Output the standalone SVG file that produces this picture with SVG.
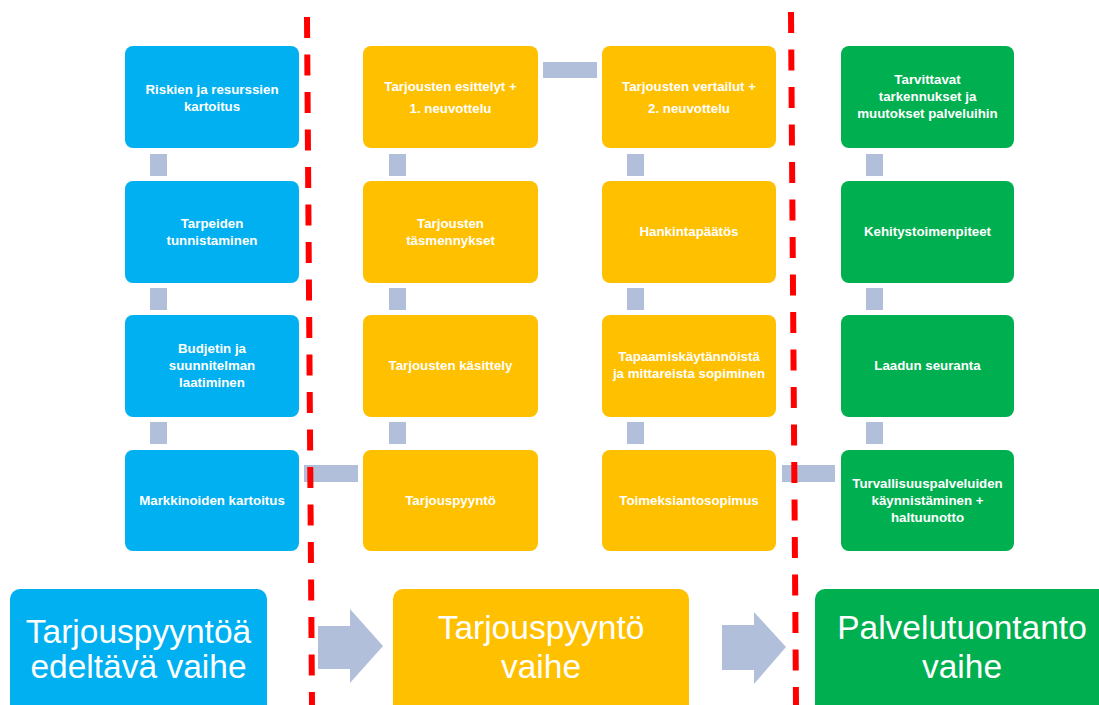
<svg xmlns="http://www.w3.org/2000/svg" width="1099" height="705" viewBox="0 0 1099 705">
<style>
.b{fill:#00B0F0}.o{fill:#FFC000}.g{fill:#00B050}
.c{fill:#B1BFDA}
.t{font-family:"Liberation Sans",Arial,sans-serif;font-weight:bold;font-size:13.3px;fill:#fff;text-anchor:middle}
.T{font-family:"Liberation Sans",Arial,sans-serif;font-size:33.5px;fill:#fff;text-anchor:middle}
.r{stroke:#FF0000;stroke-width:6;stroke-dasharray:21 16.5;fill:none}
</style>
<rect width="1099" height="705" fill="#fff"/>
<g id="connectors">
<rect class="c" x="150" y="154" width="17" height="22"/>
<rect class="c" x="150" y="288" width="17" height="22"/>
<rect class="c" x="150" y="422" width="17" height="22"/>
<rect class="c" x="389" y="154" width="17" height="22"/>
<rect class="c" x="389" y="288" width="17" height="22"/>
<rect class="c" x="389" y="422" width="17" height="22"/>
<rect class="c" x="627" y="154" width="17" height="22"/>
<rect class="c" x="627" y="288" width="17" height="22"/>
<rect class="c" x="627" y="422" width="17" height="22"/>
<rect class="c" x="866" y="154" width="17" height="22"/>
<rect class="c" x="866" y="288" width="17" height="22"/>
<rect class="c" x="866" y="422" width="17" height="22"/>
<rect class="c" x="304" y="465" width="54" height="17"/>
<rect class="c" x="782" y="465" width="53" height="17"/>
<rect class="c" x="543" y="62" width="54" height="16"/>
<path class="c" d="M318 626H350V609L383 646L350 683V669H318Z"/>
<path class="c" d="M722 625H754V612L786 647L754 684V670H722Z"/>
</g>
<g id="n1"><rect class="b" x="125" y="46" width="174" height="102" rx="8"/><text class="t" x="212" y="94">Riskien ja resurssien</text><text class="t" x="212" y="111">kartoitus</text></g>
<g id="n2"><rect class="b" x="125" y="181" width="174" height="102" rx="8"/><text class="t" x="212" y="228">Tarpeiden</text><text class="t" x="212" y="245">tunnistaminen</text></g>
<g id="n3"><rect class="b" x="125" y="315" width="174" height="102" rx="8"/><text class="t" x="212" y="353">Budjetin ja</text><text class="t" x="212" y="370">suunnitelman</text><text class="t" x="212" y="387">laatiminen</text></g>
<g id="n4"><rect class="b" x="125" y="450" width="174" height="101" rx="8"/><text class="t" x="212" y="505">Markkinoiden kartoitus</text></g>
<g id="n5"><rect class="o" x="363" y="46" width="175" height="102" rx="8"/><text class="t" x="450.5" y="91">Tarjousten esittelyt +</text><text class="t" x="450.5" y="113">1. neuvottelu</text></g>
<g id="n6"><rect class="o" x="363" y="181" width="175" height="102" rx="8"/><text class="t" x="450.5" y="228">Tarjousten</text><text class="t" x="450.5" y="245">täsmennykset</text></g>
<g id="n7"><rect class="o" x="363" y="315" width="175" height="102" rx="8"/><text class="t" x="450.5" y="370">Tarjousten käsittely</text></g>
<g id="n8"><rect class="o" x="363" y="450" width="175" height="101" rx="8"/><text class="t" x="450.5" y="505">Tarjouspyyntö</text></g>
<g id="n9"><rect class="o" x="602" y="46" width="174" height="102" rx="8"/><text class="t" x="689" y="91">Tarjousten vertailut +</text><text class="t" x="689" y="113">2. neuvottelu</text></g>
<g id="n10"><rect class="o" x="602" y="181" width="174" height="102" rx="8"/><text class="t" x="689" y="236">Hankintapäätös</text></g>
<g id="n11"><rect class="o" x="602" y="315" width="174" height="102" rx="8"/><text class="t" x="689" y="361">Tapaamiskäytännöistä</text><text class="t" x="689" y="378">ja mittareista sopiminen</text></g>
<g id="n12"><rect class="o" x="602" y="450" width="174" height="101" rx="8"/><text class="t" x="689" y="505">Toimeksiantosopimus</text></g>
<g id="n13"><rect class="g" x="841" y="46" width="173" height="102" rx="8"/><text class="t" x="927.5" y="84">Tarvittavat</text><text class="t" x="927.5" y="101">tarkennukset ja</text><text class="t" x="927.5" y="118">muutokset palveluihin</text></g>
<g id="n14"><rect class="g" x="841" y="181" width="173" height="102" rx="8"/><text class="t" x="927.5" y="236">Kehitystoimenpiteet</text></g>
<g id="n15"><rect class="g" x="841" y="315" width="173" height="102" rx="8"/><text class="t" x="927.5" y="370">Laadun seuranta</text></g>
<g id="n16"><rect class="g" x="841" y="450" width="173" height="101" rx="8"/><text class="t" x="927.5" y="488">Turvallisuuspalveluiden</text><text class="t" x="927.5" y="505">käynnistäminen +</text><text class="t" x="927.5" y="522">haltuunotto</text></g>
<g id="p1"><rect class="b" x="10" y="589" width="257" height="130" rx="10"/><text class="T" x="138.5" y="643">Tarjouspyyntöä</text><text class="T" x="138.5" y="678">edeltävä vaihe</text></g>
<g id="p2"><rect class="o" x="393" y="589" width="296" height="130" rx="10"/><text class="T" x="541" y="639">Tarjouspyyntö</text><text class="T" x="541" y="678">vaihe</text></g>
<g id="p3"><rect class="g" x="815" y="589" width="300" height="130" rx="10"/><text class="T" x="962" y="639">Palvelutuontanto</text><text class="T" x="962" y="678">vaihe</text></g>
<g id="dividers">
<line class="r" x1="307" y1="17" x2="312" y2="705"/>
<line class="r" x1="791" y1="12" x2="796" y2="705"/>
</g>
</svg>
